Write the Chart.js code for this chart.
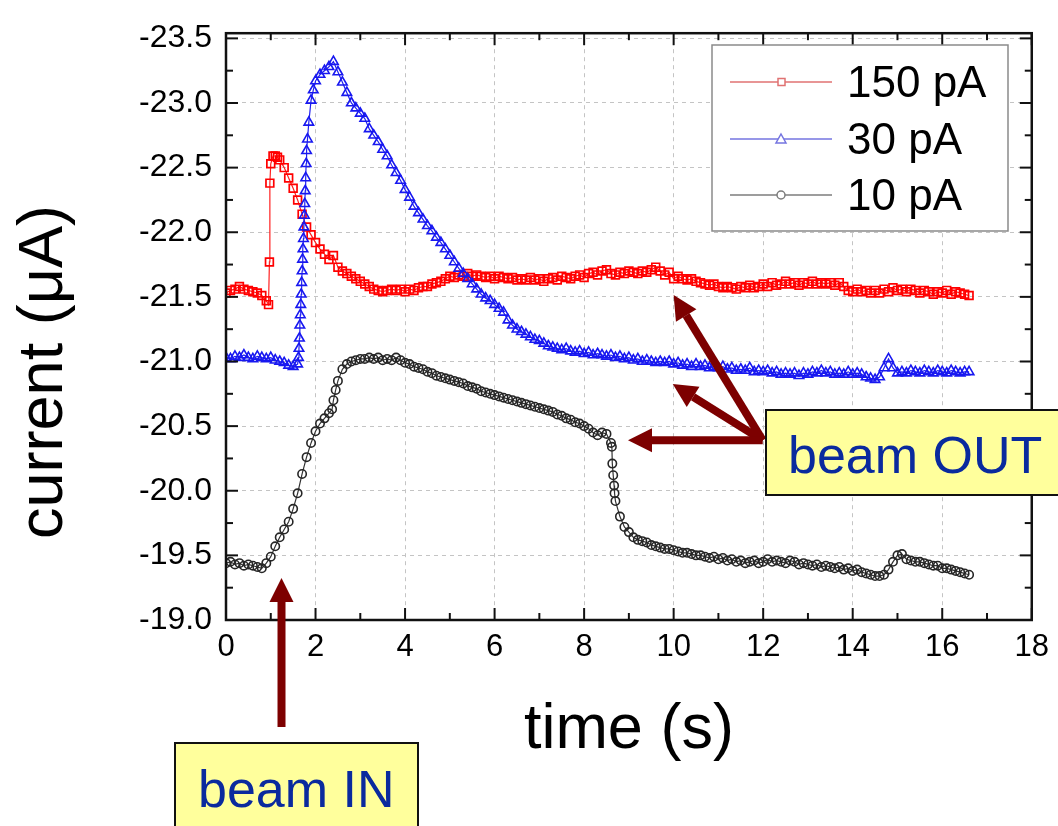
<!DOCTYPE html>
<html>
<head>
<meta charset="utf-8">
<script src="https://cdn.jsdelivr.net/npm/chart.js@4.4.1/dist/chart.umd.min.js"></script>
<style>
  html, body { margin: 0; padding: 0; background: #fff; }
</style>
</head>
<body>
<canvas id="grafico" width="1058" height="826"></canvas>
<script>
// sampling grid shared by the three runs (s)
const sampleTimes = [
  0.0, 0.1, 0.2, 0.3, 0.4, 0.5, 0.6, 0.7, 0.8, 0.9,
  1.0, 1.1, 1.2, 1.3, 1.4, 1.5, 1.6, 1.7, 1.8, 1.9,
  2.0, 2.1, 2.2, 2.3, 2.4, 2.5, 2.6, 2.7, 2.8, 2.9,
  3.0, 3.1, 3.2, 3.3, 3.4, 3.5, 3.6, 3.7, 3.8, 3.9,
  4.0, 4.1, 4.2, 4.3, 4.4, 4.5, 4.6, 4.7, 4.8, 4.9,
  5.0, 5.1, 5.2, 5.3, 5.4, 5.5, 5.6, 5.7, 5.8, 5.9,
  6.0, 6.1, 6.2, 6.3, 6.4, 6.5, 6.6, 6.7, 6.8, 6.9,
  7.0, 7.1, 7.2, 7.3, 7.4, 7.5, 7.6, 7.7, 7.8, 7.9,
  8.0, 8.1, 8.2, 8.3, 8.4, 8.5, 8.6, 8.7, 8.8, 8.9,
  9.0, 9.1, 9.2, 9.3, 9.4, 9.5, 9.6, 9.7, 9.8, 9.9,
  10.0, 10.1, 10.2, 10.3, 10.4, 10.5, 10.6, 10.7, 10.8, 10.9,
  11.0, 11.1, 11.2, 11.3, 11.4, 11.5, 11.6, 11.7, 11.8, 11.9,
  12.0, 12.1, 12.2, 12.3, 12.4, 12.5, 12.6, 12.7, 12.8, 12.9,
  13.0, 13.1, 13.2, 13.3, 13.4, 13.5, 13.6, 13.7, 13.8, 13.9,
  14.0, 14.1, 14.2, 14.3, 14.4, 14.5, 14.6, 14.7, 14.8, 14.9,
  15.0, 15.1, 15.2, 15.3, 15.4, 15.5, 15.6, 15.7, 15.8, 15.9,
  16.0, 16.1, 16.2, 16.3, 16.4, 16.5, 16.6
];

// 150 pA (uA)
const current150 = [
  -21.53, -21.55, -21.56, -21.58, -21.56, -21.55, -21.54, -21.53, -21.51, -21.47,
  -22.53, -22.59, -22.56, -22.50, -22.42, -22.34, -22.25, -22.14, -22.04, -21.98,
  -21.92, -21.87, -21.83, -21.79, -21.82, -21.73, -21.70, -21.68, -21.66, -21.64,
  -21.62, -21.60, -21.58, -21.56, -21.55, -21.54, -21.55, -21.56, -21.55, -21.56,
  -21.54, -21.56, -21.55, -21.57, -21.58, -21.58, -21.60, -21.61, -21.62, -21.64,
  -21.66, -21.65, -21.67, -21.66, -21.68, -21.66, -21.67, -21.66, -21.65, -21.66,
  -21.64, -21.66, -21.65, -21.64, -21.65, -21.63, -21.64, -21.63, -21.65, -21.63,
  -21.64, -21.62, -21.64, -21.65, -21.63, -21.66, -21.65, -21.64, -21.66, -21.67,
  -21.65, -21.68, -21.69, -21.67, -21.70, -21.71, -21.68, -21.67, -21.69, -21.68,
  -21.70, -21.69, -21.68, -21.70, -21.69, -21.71, -21.73, -21.70, -21.67, -21.69,
  -21.64, -21.66, -21.64, -21.63, -21.64, -21.62, -21.61, -21.60, -21.59, -21.60,
  -21.58, -21.57, -21.58, -21.57, -21.56, -21.58, -21.57, -21.59, -21.57, -21.58,
  -21.60, -21.58, -21.61, -21.59, -21.60, -21.62, -21.60, -21.61, -21.59, -21.61,
  -21.60, -21.62, -21.60, -21.61, -21.60, -21.61, -21.59, -21.61, -21.58, -21.55,
  -21.54, -21.56, -21.54, -21.55, -21.53, -21.55, -21.53, -21.56, -21.54, -21.57,
  -21.55, -21.56, -21.54, -21.56, -21.55, -21.53, -21.55, -21.54, -21.52, -21.54,
  -21.53, -21.55, -21.52, -21.54, -21.53, -21.52, -21.51
];
const extraTimes150 = [0.95, 0.97, 0.98, 1.05, 1.15];
const extraCurrent150 = [-21.44, -21.77, -22.38, -22.59, -22.58];

// 30 pA (uA)
const current30 = [
  -21.03, -21.02, -21.04, -21.03, -21.05, -21.03, -21.02, -21.04, -21.03, -21.02,
  -21.03, -21.01, -21.00, -20.99, -20.97, -20.96, -20.98, -21.70, -22.63, -23.02,
  -23.17, -23.22, -23.25, -23.28, -23.32, -23.24, -23.16, -23.08, -23.00, -22.96,
  -22.92, -22.88, -22.80, -22.75, -22.70, -22.64, -22.59, -22.52, -22.46, -22.40,
  -22.33, -22.27, -22.20, -22.15, -22.10, -22.05, -22.01, -21.96, -21.92, -21.87,
  -21.82, -21.77, -21.72, -21.68, -21.64, -21.60, -21.56, -21.52, -21.49, -21.47,
  -21.44, -21.41, -21.38, -21.32, -21.28, -21.25, -21.23, -21.21, -21.19, -21.17,
  -21.16, -21.14, -21.12, -21.11, -21.10, -21.09, -21.10, -21.08, -21.07, -21.08,
  -21.06, -21.07, -21.05, -21.06, -21.05, -21.04, -21.05, -21.03, -21.04, -21.02,
  -21.03, -21.01, -21.02, -21.00, -21.01, -21.00, -20.99, -21.00, -20.99, -21.00,
  -20.98, -20.99, -20.97, -20.98, -20.96, -20.98, -20.96, -20.97, -20.95, -20.96,
  -20.95, -20.96, -20.94, -20.95, -20.93, -20.94, -20.93, -20.95, -20.92, -20.93,
  -20.92, -20.93, -20.91, -20.92, -20.90, -20.91, -20.90, -20.91, -20.89, -20.91,
  -20.90, -20.92, -20.91, -20.93, -20.91, -20.92, -20.90, -20.91, -20.90, -20.92,
  -20.90, -20.91, -20.90, -20.88, -20.87, -20.86, -20.88, -20.95, -21.02, -20.95,
  -20.91, -20.92, -20.91, -20.93, -20.92, -20.91, -20.93, -20.92, -20.91, -20.93,
  -20.92, -20.91, -20.93, -20.92, -20.91, -20.92, -20.92
];
const extraTimes30 = [
  1.62, 1.63, 1.64, 1.65, 1.66, 1.67, 1.68, 1.69, 1.71, 1.72,
  1.73, 1.74, 1.75, 1.76, 1.77, 1.78, 1.79, 1.82, 1.85, 1.95
];
const extraCurrent30 = [
  -21.03, -21.10, -21.18, -21.28, -21.36, -21.44, -21.52, -21.61, -21.79, -21.87,
  -21.95, -22.04, -22.13, -22.22, -22.32, -22.42, -22.53, -22.72, -22.85, -23.10
];

// 10 pA (uA)
const current10 = [
  -19.44, -19.45, -19.43, -19.44, -19.42, -19.43, -19.42, -19.41, -19.40, -19.44,
  -19.49, -19.57, -19.64, -19.70, -19.76, -19.86, -19.98, -20.13, -20.26, -20.37,
  -20.46, -20.52, -20.56, -20.60, -20.70, -20.85, -20.94, -20.98, -21.00, -21.01,
  -21.02, -21.02, -21.03, -21.02, -21.03, -21.01, -21.02, -21.01, -21.03, -21.01,
  -20.99, -20.98, -20.96, -20.95, -20.94, -20.92, -20.91, -20.89, -20.88, -20.87,
  -20.86, -20.85, -20.84, -20.83, -20.81, -20.80, -20.79, -20.77, -20.76, -20.75,
  -20.74, -20.73, -20.72, -20.71, -20.70, -20.69, -20.68, -20.67, -20.66, -20.65,
  -20.64, -20.63, -20.62, -20.61, -20.59, -20.58, -20.56, -20.55, -20.53, -20.52,
  -20.50, -20.48, -20.45, -20.43, -20.45, -20.44, -20.37, -19.92, -19.80, -19.72,
  -19.68, -19.64, -19.62, -19.61, -19.60, -19.58, -19.57, -19.56, -19.55, -19.55,
  -19.54, -19.53, -19.52, -19.52, -19.51, -19.50, -19.50, -19.49, -19.48, -19.49,
  -19.47, -19.48, -19.46, -19.47, -19.45, -19.46, -19.44, -19.45, -19.46, -19.44,
  -19.45, -19.47, -19.45, -19.46, -19.45, -19.44, -19.46, -19.45, -19.43, -19.44,
  -19.43, -19.42, -19.43, -19.41, -19.42, -19.41, -19.40, -19.41, -19.39, -19.40,
  -19.38, -19.39, -19.37, -19.36, -19.35, -19.34, -19.34, -19.35, -19.39, -19.45,
  -19.50, -19.51, -19.47, -19.46, -19.45, -19.45, -19.44, -19.43, -19.42, -19.42,
  -19.40, -19.40, -19.39, -19.38, -19.37, -19.36, -19.35
];
const extraTimes10 = [2.37, 2.45, 8.62, 8.63, 8.65, 8.67, 8.68];
const extraCurrent10 = [-20.63, -20.78, -20.34, -20.21, -20.12, -20.04, -19.98];

const seriesNames = ["150 pA", "30 pA", "10 pA"];
const xTicks = [0, 2, 4, 6, 8, 10, 12, 14, 16, 18];
const yTicks = [-23.5, -23.0, -22.5, -22.0, -21.5, -21.0, -20.5, -20.0, -19.5, -19.0];

const FONT = '"Liberation Sans", Arial, Helvetica, sans-serif';

const buildPoints = (times, values, extraT, extraV) => {
  const pts = times.map((t, i) => ({ x: t, y: values[i] }));
  extraT.forEach((t, i) => pts.push({ x: t, y: extraV[i] }));
  pts.sort((a, b) => a.x - b.x);
  return pts;
};

const drawArrow = (ctx, x0, y0, x1, y1) => {
  const ang = Math.atan2(y1 - y0, x1 - x0);
  const head = 24;
  const half = 12;
  const bx = x1 - head * Math.cos(ang);
  const by = y1 - head * Math.sin(ang);
  ctx.beginPath();
  ctx.moveTo(x0, y0);
  ctx.lineTo(bx, by);
  ctx.lineWidth = 8;
  ctx.lineCap = "butt";
  ctx.stroke();
  ctx.beginPath();
  ctx.moveTo(x1, y1);
  ctx.lineTo(bx + half * Math.sin(ang), by - half * Math.cos(ang));
  ctx.lineTo(bx - half * Math.sin(ang), by + half * Math.cos(ang));
  ctx.closePath();
  ctx.fill();
};

const drawBox = (ctx, left, top, right, bottom, text, tx, ty) => {
  ctx.fillStyle = "#ffff9c";
  ctx.fillRect(left, top, right - left, bottom - top);
  ctx.strokeStyle = "#111";
  ctx.lineWidth = 2;
  ctx.strokeRect(left, top, right - left, bottom - top);
  ctx.fillStyle = "#0a2a9e";
  ctx.font = "52px " + FONT;
  ctx.textAlign = "left";
  ctx.textBaseline = "alphabetic";
  ctx.fillText(text, tx, ty);
};

// frame, inward ticks, legend, axis titles and the beam IN / OUT notes
const decoracao = {
  id: "decoracao",
  afterDraw(chart) {
    const { ctx, chartArea: a, scales: { x, y } } = chart;
    ctx.save();

    // ticks (major + minor), pointing inward on all four sides
    ctx.strokeStyle = "#111";
    ctx.lineWidth = 2;
    const tick = (x0, y0, x1, y1) => {
      ctx.beginPath();
      ctx.moveTo(x0, y0);
      ctx.lineTo(x1, y1);
      ctx.stroke();
    };
    xTicks.forEach((v, i) => {
      const px = x.getPixelForValue(v);
      tick(px, a.bottom, px, a.bottom - 12);
      tick(px, a.top, px, a.top + 12);
      if (i < xTicks.length - 1) {
        const mx = x.getPixelForValue((v + xTicks[i + 1]) / 2);
        tick(mx, a.bottom, mx, a.bottom - 7);
        tick(mx, a.top, mx, a.top + 7);
      }
    });
    yTicks.forEach((v, i) => {
      const py = y.getPixelForValue(v);
      tick(a.left, py, a.left + 12, py);
      tick(a.right, py, a.right - 12, py);
      if (i < yTicks.length - 1) {
        const my = y.getPixelForValue((v + yTicks[i + 1]) / 2);
        tick(a.left, my, a.left + 7, my);
        tick(a.right, my, a.right - 7, my);
      }
    });

    // frame
    ctx.lineWidth = 2.5;
    ctx.strokeRect(a.left, a.top, a.right - a.left, a.bottom - a.top);

    // legend
    const lx = 712, ly = 45, lw = 296, lh = 186;
    ctx.fillStyle = "#fff";
    ctx.fillRect(lx, ly, lw, lh);
    ctx.strokeStyle = "#8a8a8a";
    ctx.lineWidth = 1.5;
    ctx.strokeRect(lx, ly, lw, lh);
    const rows = [82, 139, 195];
    const legColors = ["#e07272", "#7474e0", "#7c7c7c"];
    ctx.font = "44px " + FONT;
    ctx.textAlign = "left";
    ctx.textBaseline = "alphabetic";
    rows.forEach((ry, i) => {
      ctx.strokeStyle = legColors[i];
      ctx.lineWidth = 1.5;
      tick(730, ry, 832, ry);
      ctx.fillStyle = "#fff";
      ctx.beginPath();
      if (i === 0) {
        ctx.rect(778, ry - 3.5, 7, 7);
      } else if (i === 1) {
        ctx.moveTo(781, ry - 5);
        ctx.lineTo(786, ry + 4);
        ctx.lineTo(776, ry + 4);
        ctx.closePath();
      } else {
        ctx.arc(781, ry, 4, 0, Math.PI * 2);
      }
      ctx.fill();
      ctx.stroke();
      ctx.fillStyle = "#000";
      ctx.fillText(seriesNames[i], 847, ry + 15);
    });

    // axis titles
    ctx.fillStyle = "#000";
    ctx.font = "63px " + FONT;
    ctx.textAlign = "center";
    ctx.fillText("time (s)", (a.left + a.right) / 2, 748);
    ctx.save();
    ctx.translate(62, 372);
    ctx.rotate(-Math.PI / 2);
    ctx.fillText("current (\u03bcA)", 0, 0);
    ctx.restore();

    // beam notes
    ctx.strokeStyle = "#7d0000";
    ctx.fillStyle = "#7d0000";
    const ox = x.getPixelForValue(11.99);
    const oy = y.getPixelForValue(-20.39);
    drawArrow(ctx, ox, oy, x.getPixelForValue(10.0), y.getPixelForValue(-21.515));
    drawArrow(ctx, ox, oy, x.getPixelForValue(9.98), y.getPixelForValue(-20.825));
    drawArrow(ctx, ox, oy, x.getPixelForValue(8.98), y.getPixelForValue(-20.39));
    const inX = x.getPixelForValue(1.24);
    drawArrow(ctx, inX, 727, inX, y.getPixelForValue(-19.325));

    drawBox(ctx, 766, 410, 1064, 495, "beam OUT", 788, 473);
    drawBox(ctx, 175, 743, 418, 832, "beam IN", 198, 807);

    ctx.restore();
  },
};

const ctx = document.getElementById("grafico").getContext("2d");

new Chart(ctx, {
  type: "line",
  data: {
    datasets: [
      {
        label: seriesNames[0],
        data: buildPoints(sampleTimes, current150, extraTimes150, extraCurrent150),
        borderColor: "#ff2020",
        borderWidth: 1.2,
        pointStyle: "rect",
        pointRadius: 5.5,
        pointBorderColor: "#ff0000",
        pointBackgroundColor: "rgba(255,255,255,0)",
        pointBorderWidth: 1.7,
        order: 1,
      },
      {
        label: seriesNames[1],
        data: buildPoints(sampleTimes, current30, extraTimes30, extraCurrent30),
        borderColor: "#2020f0",
        borderWidth: 1.2,
        pointStyle: "triangle",
        pointRadius: 5.5,
        pointBorderColor: "#1818f0",
        pointBackgroundColor: "rgba(255,255,255,0)",
        pointBorderWidth: 1.6,
        order: 0,
      },
      {
        label: seriesNames[2],
        data: buildPoints(sampleTimes, current10, extraTimes10, extraCurrent10),
        borderColor: "#333",
        borderWidth: 1.2,
        pointStyle: "circle",
        pointRadius: 4.2,
        pointBorderColor: "#262626",
        pointBackgroundColor: "rgba(255,255,255,0)",
        pointBorderWidth: 1.6,
        order: 2,
      },
    ],
  },
  options: {
    responsive: false,
    animation: false,
    layout: { padding: { left: 0, right: 22, top: 23, bottom: 0 } },
    plugins: {
      legend: { display: false },
      tooltip: { enabled: false },
    },
    scales: {
      x: {
        type: "linear",
        min: 0,
        max: 18,
        afterBuildTicks: (scale) => {
          scale.ticks = xTicks.map((v) => ({ value: v }));
        },
        afterFit: (scale) => {
          scale.height = 206;
        },
        grid: { color: "#c4c4c4", lineWidth: 1, drawTicks: false },
        border: { display: false, dash: [4, 4] },
        ticks: {
          padding: 9,
          color: "#000",
          font: { family: FONT, size: 31 },
          maxRotation: 0,
          callback: (v) => String(v),
        },
      },
      y: {
        type: "linear",
        reverse: true,
        min: -23.54,
        max: -19.0,
        afterBuildTicks: (scale) => {
          scale.ticks = yTicks.map((v) => ({ value: v }));
        },
        afterFit: (scale) => {
          scale.width = 226;
        },
        grid: { color: "#c4c4c4", lineWidth: 1, drawTicks: false },
        border: { display: false, dash: [4, 4] },
        ticks: {
          padding: 14,
          color: "#000",
          font: { family: FONT, size: 32 },
          callback: (v) => v.toFixed(1),
        },
      },
    },
  },
  plugins: [decoracao],
});
</script>
</body>
</html>
